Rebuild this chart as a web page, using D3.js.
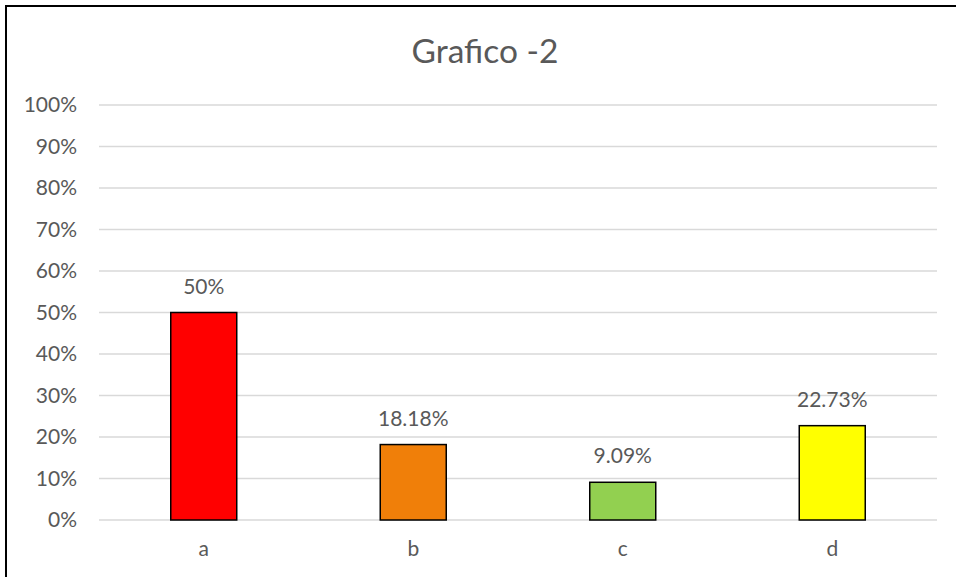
<!DOCTYPE html>
<html>
<head>
<meta charset="utf-8">
<script src="https://cdn.jsdelivr.net/npm/d3@7"></script>
<style>
	body { margin: 0; background: #fff; }
	text { font-family: Lato, 'Open Sans', sans-serif; fill: #595959; }
</style>
</head>
<body>
<div class="vis"></div>
<script>
const categories = ['a', 'b', 'c', 'd']
const values = [0.5, 0.1818, 0.0909, 0.2273]
const valueLabels = ['50%', '18.18%', '9.09%', '22.73%']
const colors = ['#ff0000', '#f07f09', '#92d050', '#ffff00']
const yTicks = [0, 0.1, 0.2, 0.3, 0.4, 0.5, 0.6, 0.7, 0.8, 0.9, 1]

const W = 956
const H = 577
const MARGIN = { top: 105, bottom: 57, left: 99, right: 19 }
const chartW = W - MARGIN.left - MARGIN.right
const chartH = H - MARGIN.top - MARGIN.bottom

const formatPct = d3.format('.0%')

const svg = d3.select('.vis').append('svg')
	.attr('width', W)
	.attr('height', H)

// frame (only top and left visible in the crop)
svg.append('path')
	.attr('d', `M6,${H} V6 H${W}`)
	.attr('fill', 'none')
	.attr('stroke', '#000')
	.attr('stroke-width', 2)

svg.append('text')
	.attr('x', 485)
	.attr('y', 63)
	.attr('text-anchor', 'middle')
	.style('font-size', '33.5px')
	.text('Grafico -2')

const chart = svg.append('g')
	.attr('transform', `translate(${MARGIN.left},${MARGIN.top})`)

const x = d3.scaleBand().domain(categories).range([0, chartW]).paddingInner(0.685).paddingOuter(0.3425)
const y = d3.scaleLinear().domain([0, 1]).range([chartH, 0])

// gridlines
chart.append('g')
	.selectAll('line')
	.data(yTicks)
	.enter()
	.append('line')
	.attr('x1', 0)
	.attr('x2', chartW)
	.attr('y1', d => y(d))
	.attr('y2', d => y(d))
	.attr('stroke', '#d9d9d9')
	.attr('stroke-width', 1.5)

// y axis labels
const yAxis = d3.axisLeft(y).tickValues(yTicks).tickFormat(formatPct).tickSize(0).tickPadding(22)
chart.append('g')
	.call(yAxis)
	.call(g => g.select('.domain').remove())
	.call(g => g.selectAll('text').style('font-size', '21px').attr('fill', '#595959'))

// x axis labels
const xAxis = d3.axisBottom(x).tickSize(0).tickPadding(21)
chart.append('g')
	.attr('transform', `translate(0,${chartH})`)
	.call(xAxis)
	.call(g => g.select('.domain').remove())
	.call(g => g.selectAll('text').style('font-size', '21px').attr('fill', '#595959'))

const bar = chart.selectAll('.bar')
	.data(categories)
	.enter()
	.append('g')
	.attr('class', 'bar')

bar.append('rect')
	.attr('x', d => x(d))
	.attr('y', (d, i) => y(values[i]))
	.attr('width', x.bandwidth())
	.attr('height', (d, i) => chartH - y(values[i]))
	.attr('fill', (d, i) => colors[i])
	.attr('stroke', '#000')
	.attr('stroke-width', 1.5)

bar.append('text')
	.attr('x', d => x(d) + x.bandwidth() / 2)
	.attr('y', (d, i) => y(values[i]) - 19)
	.attr('text-anchor', 'middle')
	.style('font-size', '21px')
	.text((d, i) => valueLabels[i])
</script>
</body>
</html>
